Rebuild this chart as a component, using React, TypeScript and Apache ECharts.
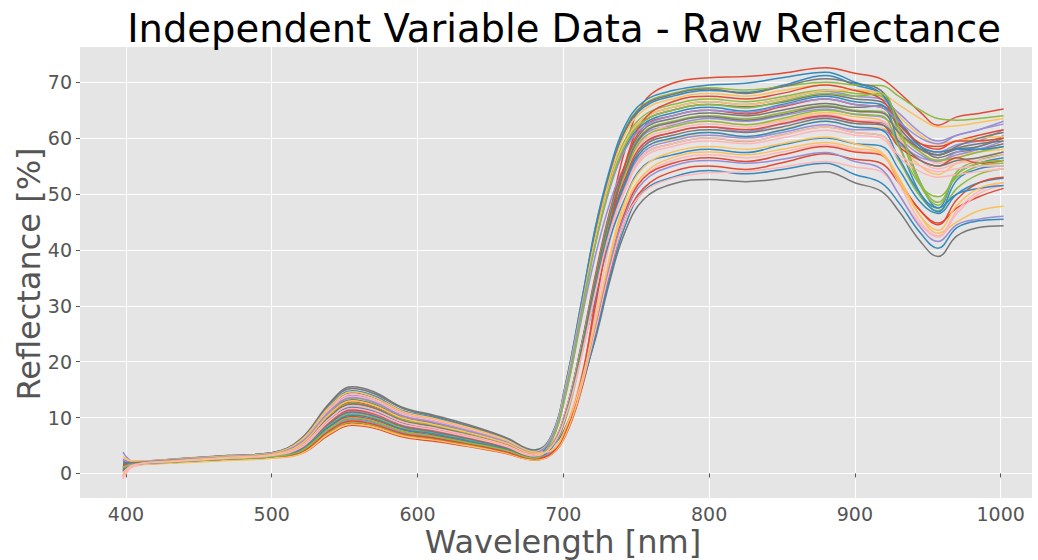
import React, { useEffect, useRef } from "react";
import * as echarts from "echarts";

// Wavelength sample points (nm)
const wavelengths = [398, 405, 430, 470, 500, 520, 540, 555, 570, 590, 610, 635, 660, 680, 692, 702, 712, 722, 732, 742, 755, 775, 800, 825, 850, 880, 900, 918, 930, 945, 957, 970, 985, 1002];

const xTicks = [400, 500, 600, 700, 800, 900, 1000];
const yTicks = [0, 10, 20, 30, 40, 50, 60, 70];

const palette = ["#E24A33", "#348ABD", "#988ED5", "#777777", "#FBC15E", "#8EBA42", "#FFB5B8"];

const s0 = [1.0,1.7,2.1,2.6,3.0,3.7,7.4,9.0,8.5,6.8,6.1,5.0,3.8,2.5, 3.5,7.5,16,31,46,57.6,66.4, 69.8,70.8,71.0,71.6,72.6,71.6,70.6,68.2,64.6,62.3,63.8,64.4,65.2];
const s1 = [2.0,1.9,2.3,2.9,3.3,5.0,10.3,12.5,11.8,9.5,8.5,7.0,5.2,3.4, 6,15,28,43,53.7,61,65.5, 67.5,68.5,68.2,69.4,71.2,69.5,67.8,62,52,47.5,53.5,55.5,56.5];
const s2 = [3.8,2.2,2.5,3.1,3.5,5.6,11.5,14.0,13.2,10.6,9.5,7.8,5.9,3.8, 5,11,22,34.5,46,53.8,60.5, 62.3,63.5,63.0,64.0,65.2,64.2,63.8,61.5,58.5,57.5,58.8,59.5,61.5];
const s3 = [0.8,1.6,2.5,3.2,3.7,6.2,12.7,15.5,14.6,11.8,10.5,8.7,6.5,4.2, 6.5,16,29,41.6,51.7,58.6,63, 65,66,65.6,66.4,67.8,67,66.5,63,58.5,56.5,57.5,58,59];
const s4 = [0.0,1.5,1.9,2.5,2.9,4.0,8.2,10,9.4,7.6,6.8,5.6,4.2,2.8, 4.5,10.5,21,33,44,51.6,58, 59.8,61,60.2,61.5,63,62,61.8,59,55,53.5,55.5,56.5,57.5];
const s5 = [1.5,1.8,2.2,2.8,3.2,4.5,9.0,11,10.3,8.4,7.5,6.2,4.6,3.0, 6,15.5,29,44,54,61.4,66, 68,69,68.6,69.2,70,69.5,69.4,67.5,65,63.5,63.2,63.5,64];
const s6 = [-0.8,1.3,2.0,2.9,3.4,5.3,10.7,13,12.2,9.9,8.8,7.3,5.4,3.6, 4,8.5,17,28.5,41.5,52,59.8, 62.6,64,63.4,64.6,65.8,64.8,64.5,61.5,57.5,55.5,56.5,57.5,58.5];
const s7 = [1.2,1.5,1.9,2.4,2.8,3.5,7.0,8.6,8.1,6.5,5.8,4.8,3.6,2.4, 3.4,7,14.5,25,36,45,51, 54,55,54.4,55.6,57.2,56.2,55.5,52,47,44.8,47.5,49.5,51];
const s8 = [2.5,2.0,2.3,2.8,3.2,4.7,9.4,11.5,10.8,8.7,7.8,6.4,4.8,3.2, 5,10.5,21,31.5,42,49,55, 57,58,57.4,58.8,60,59,58.6,54.5,48.5,46.5,50,52,52.8];
const s9 = [0.5,1.6,2.2,2.8,3.3,4.9,9.8,12,11.3,9.1,8.2,6.7,5.0,3.3, 6,14.5,27,39,48.4,54.9,59, 61,62,61.2,62.5,63.8,63,62.8,60,57,55.8,57.5,58.5,60.5];
const s10 = [1.8,1.9,2.4,3.1,3.6,5.8,11.9,14.5,13.6,11.0,9.9,8.1,6.1,3.9, 4.8,8.5,15.5,24,34.5,43,49, 51.8,52.6,52.2,52.8,54,52,50.5,47,41.5,38.8,42.5,44,44.3];
const s11 = [-0.3,1.4,1.9,2.5,2.9,3.8,7.8,9.5,8.9,7.2,6.5,5.3,4.0,2.7, 4.6,10.5,21.5,34.2,45.6,53.4,60, 62,63,62.4,63.2,64.6,63.8,63.2,60.5,57.5,56,57,57.5,58];
const s12 = [1.0,1.8,2.4,3.0,3.5,5.5,11.1,13.5,12.7,10.3,9.2,7.6,5.7,3.7, 6.5,15.5,28.5,42,52.5,59.5,64, 66,67,66.5,67.4,68.6,68,67.5,61,51.5,48,54,56,57];
const s13 = [-1.0,1.2,1.9,2.6,3.0,4.3,8.6,10.5,9.9,8.0,7.1,5.9,4.4,2.9, 3.8,8,15.5,26.5,38,47,53, 56,57,56.5,57.5,58.8,57.8,57,52,45,42.5,47,50.5,52];
const s14 = [1.4,1.8,2.3,2.9,3.4,5.2,10.5,12.8,12.0,9.7,8.7,7.2,5.4,3.5, 5.2,11.5,22.5,35.5,47,55,62, 64,65,64.3,65.6,67,66,65.5,62.5,59,58.5,59.5,60.5,61.5];
const s15 = [0.3,1.5,1.9,2.5,2.9,4.0,8.0,9.8,9.2,7.4,6.7,5.5,4.1,2.7, 3.8,7.8,15,24.5,35,44,50.5, 53,54.2,53.6,54.4,55.5,53.5,52,48.5,43,40.3,44,45.2,45.5];
const s16 = [2.2,2.0,2.3,2.9,3.3,4.6,9.2,11.2,10.5,8.5,7.6,6.3,4.7,3.1, 6.2,15,28,42,52,59,63.5, 65.5,66.5,66,67,68.4,67.5,67,64.5,61,59.5,60.5,61.5,63];
const s17 = [1.1,1.7,2.3,3.0,3.5,5.3,10.8,13.2,12.4,10.0,9.0,7.4,5.5,3.6, 5.2,11.5,22.5,35,46.7,54.7,61.5, 63.5,64.5,64,65,66.2,65.5,65.8,62,58,57,58,58.5,60];
const s18 = [0.2,1.6,2.2,2.9,3.3,4.9,10.0,12.2,11.5,9.3,8.3,6.8,5.1,3.3, 6,15,28.5,43,53.3,60.5,65, 67,68,67.5,68.5,69.5,68.6,67.8,64,60.5,59,59.5,60,60.3];
const s19 = [0.7,1.5,2.0,2.5,2.9,3.7,7.5,9.2,8.6,7.0,6.3,5.2,3.9,2.6, 4.5,10,20.5,32.5,43.3,50.7,57, 59,60,59.4,60.6,62,61,60.5,56,49.5,47,51,53.5,54.5];
const s20 = [2.8,2.1,2.5,3.1,3.6,5.7,11.6,14.2,13.3,10.8,9.7,8.0,6.0,3.9, 5.4,11.5,22,34,45.2,53,59.5, 61.5,62.5,62,63,64.2,63.2,63,60,56,54.5,55.5,56,57];
const s21 = [1.6,1.7,2.0,2.5,2.9,4.1,8.4,10.2,9.6,7.8,6.9,5.7,4.3,2.8, 3.6,7.5,15,26,37.5,46.5,52.8, 55.5,56.5,55.8,57,58.5,57.5,57,52.5,47,44.5,49,52,53];
const s22 = [1.3,1.8,2.3,2.9,3.3,4.8,9.7,11.8,11.1,9.0,8.0,6.6,4.9,3.2, 6.3,15.5,28.5,41.5,51.3,58,62.5, 64.5,65.5,64.8,66,67.5,66.5,66,59,50,46.8,52.5,54.5,55];
const s23 = [-0.5,1.4,1.9,2.5,2.9,3.9,7.9,9.6,9.0,7.3,6.5,5.4,4.0,2.7, 4.6,10.5,21,32.8,43.7,51.2,57.5, 59.5,60.5,60,61,62.4,61.5,61.5,59,56.5,56,57,58,59.5];
const s24 = [1.9,2.0,2.5,3.2,3.7,6.1,12.5,15.2,14.3,11.6,10.3,8.5,6.4,4.1, 6.8,16.5,30,43.5,54,61.2,65.8, 67.8,68.8,68,69.2,70.6,69.8,68.5,63.5,58.5,57,58.2,59,59.5];
const s25 = [0.9,1.5,1.8,2.3,2.7,3.5,7.2,8.8,8.3,6.7,6.0,4.9,3.7,2.4, 3.4,7.2,15,26.5,39,48.5,54.8, 57.5,58.5,58,59,60.2,59,57.5,53,46,43,45,47,47.8];
const s26 = [2.1,1.9,2.3,2.9,3.4,5.1,10.3,12.6,11.8,9.6,8.6,7.1,5.3,3.4, 5.1,11,22,34.8,46.4,54.3,61, 63,64,63.5,64.5,65.8,65,64.8,61,57.5,56,56.5,57.5,58.5];
const s27 = [-0.6,1.4,2.2,3.0,3.5,5.5,11.3,13.8,13.0,10.5,9.4,7.7,5.8,3.8, 4.2,8,15.5,25.5,36.5,45,50.3, 52.8,53.8,54,54.8,55.8,54.8,54,50,44.5,42.3,46.5,50,51.5];
const s28 = [0.6,1.6,2.1,2.7,3.1,4.6,9.3,11.4,10.7,8.7,7.8,6.4,4.8,3.1, 4.8,10.5,21,33.6,44.8,52.5,59, 61,62,61.5,62.6,64,63,62.5,58.5,56,55,56.5,55.5,56];
const s29 = [1.7,1.9,2.4,3.1,3.6,5.9,12.1,14.8,13.9,11.2,10.1,8.3,6.2,4.0, 6.8,16.5,30,44,54.5,62,66.5, 68.5,69.5,69.8,70.8,71.8,70,68,63,58.5,57.5,58,58,58.5];
const s30 = [2.4,1.9,2.2,2.7,3.1,4.4,8.9,10.8,10.2,8.2,7.3,6.0,4.5,3.0, 3.9,8,16,26.5,37.5,46,52.2, 55,56,55.5,56.2,57.4,55.8,54.5,50,44,41.5,44.5,45.5,46];
const s31 = [0.4,1.6,2.2,2.9,3.4,5.0,10.2,12.4,11.7,9.4,8.4,6.9,5.2,3.4, 5,11,21.5,33.5,44.5,52,58.5, 60.5,61.5,61,62,63.5,62.6,62.4,59.5,56,55,56,56.5,57.5];
const s32 = [3.0,2.2,2.5,3.1,3.6,5.9,12.0,14.6,13.7,11.1,9.9,8.2,6.1,3.9, 6.6,16,29,42,52,59,63.5, 65.5,66.5,66,67,68.5,68.6,68,66,63.5,62,62.2,62.8,63.5];
const s33 = [1.2,1.7,2.1,2.6,3.0,4.3,8.7,10.6,10.0,8.1,7.2,5.9,4.5,2.9, 4.7,10.5,21.5,34.2,45.6,53.4,60, 62,63,62.4,63.5,65,64.3,64,58.5,51.5,49.5,53,55,55.5];
const s34 = [-0.9,1.3,2.0,2.8,3.3,4.9,9.9,12.1,11.4,9.2,8.2,6.8,5.1,3.3, 4.9,10.5,20.5,32.2,43,50.3,56.5, 58.5,59.5,59,60,61.4,60.5,60,56.5,54,53,53.5,54,54.5];
const s35 = [1.5,1.7,2.1,2.6,3.0,3.8,7.7,9.4,8.8,7.1,6.4,5.3,3.9,2.6, 3.6,7.8,16.5,30,44,55,63.2, 66.5,67.5,67,68,69.5,68.5,67,62.5,59,58,59.5,59.5,60];
const s36 = [0.8,1.6,2.0,2.6,3.0,4.2,8.5,10.4,9.8,7.9,7.1,5.8,4.4,2.9, 4.6,10.5,21,33,44,51.6,58, 60,61,60.3,61.4,63,62,61.5,56.5,50,47.5,50,51,51.5];
const s37 = [1.0,1.8,2.4,3.0,3.5,5.5,11.2,13.6,12.8,10.3,9.2,7.6,5.7,3.7, 6.4,15.5,28.5,41,51,57.7,62, 64,65,64.6,65.8,67,66,65.5,63,60,59,60.5,61.5,62.5];
const s38 = [2.0,1.9,2.3,2.8,3.2,4.5,9.0,11.0,10.3,8.4,7.5,6.2,4.6,3.0, 4.8,10.5,21.5,34.5,46,54,60.8, 62.8,63.8,63.2,64.2,65.6,64.8,64.6,61,58,57,58.5,60,61];
const s39 = [-0.2,1.5,2.2,2.9,3.4,5.2,10.7,13.0,12.2,9.9,8.8,7.3,5.5,3.6, 4.1,8.3,16,27,38.5,47.5,53.5, 56.5,57.5,57,58,59.2,58.2,57.2,52.5,46,43.5,48,51,52];
const s40 = [1.1,1.6,2.0,2.6,3.0,4.0,8.1,9.9,9.3,7.5,6.7,5.5,4.2,2.7, 5.8,14.5,27.5,41,51.5,58.5,63, 65,66,65.4,66.6,68,67.5,68,62,52,48.5,53.5,55.5,56];
const s41 = [0.1,1.5,2.1,2.7,3.2,4.6,9.5,11.6,10.9,8.8,7.9,6.5,4.9,3.1, 4.8,10.5,20.5,32.5,43.3,50.7,57, 59,60,59.5,60.5,62,61,60.5,57,55,54,54.5,55,55];

const spectra = [s0, s1, s2, s3, s4, s5, s6, s7, s8, s9, s10, s11, s12, s13, s14, s15, s16, s17, s18, s19, s20, s21, s22, s23, s24, s25, s26, s27, s28, s29, s30, s31, s32, s33, s34, s35, s36, s37, s38, s39, s40, s41];

const FONT = '"DejaVu Sans", "Liberation Sans", sans-serif';

export default function App() {
  const ref = useRef<HTMLDivElement>(null);
  useEffect(() => {
    if (!ref.current) return;
    const chart = echarts.init(ref.current, null, { renderer: "svg" });
    const series = spectra.map((s, k) => ({
      type: "line",
      name: "sample " + (k + 1),
      data: wavelengths.map((w, i) => [w, s[i]]),
      showSymbol: false,
      smooth: 0.4,
      lineStyle: { width: 1.5, color: palette[k % palette.length] },
      itemStyle: { color: palette[k % palette.length] },
      emphasis: { disabled: true },
    }));
    chart.setOption({
      animation: false,
      backgroundColor: "#ffffff",
      grid: { left: 80, right: 6, top: 47, bottom: 62, show: true, backgroundColor: "#E5E5E5", borderWidth: 0 },
      xAxis: {
        type: "value",
        min: 368.5,
        max: 1021.5,
        axisLine: { show: false },
        axisTick: { show: true, length: 4, lineStyle: { color: "#555555", width: 1 }, customValues: xTicks },
        axisLabel: { customValues: xTicks, fontSize: 19, lineHeight: 19, color: "#555555", fontFamily: FONT, margin: 6, formatter: (v: number) => String(v) },
        splitLine: { show: true, lineStyle: { color: "#ffffff", width: 1 } },
      },
      yAxis: {
        type: "value",
        min: -4.4,
        max: 76.3,
        axisLine: { show: false },
        axisTick: { show: true, length: 4, lineStyle: { color: "#555555", width: 1 }, customValues: yTicks },
        axisLabel: { customValues: yTicks, fontSize: 19, color: "#555555", fontFamily: FONT, margin: 8, formatter: (v: number) => String(v) },
        splitLine: { show: true, lineStyle: { color: "#ffffff", width: 1 } },
      },
      graphic: [
        {
          type: "text",
          x: 564,
          y: 28,
          style: { text: "Independent Variable Data - Raw Reflectance", font: "38.5px " + FONT, fill: "#000000", textAlign: "center", textVerticalAlign: "middle" },
        },
        {
          type: "text",
          x: 563,
          y: 542,
          style: { text: "Wavelength [nm]", font: "32px " + FONT, lineHeight: 32, fill: "#555555", textAlign: "center", textVerticalAlign: "middle" },
        },
        {
          type: "text",
          x: 29,
          y: 274,
          rotation: Math.PI / 2,
          style: { text: "Reflectance [%]", font: "32px " + FONT, fill: "#555555", textAlign: "center", textVerticalAlign: "middle" },
        },
      ],
      series,
    });
    return () => chart.dispose();
  }, []);
  return <div ref={ref} style={{ position: "fixed", left: 0, top: 0, width: 1038, height: 560 }} />;
}
